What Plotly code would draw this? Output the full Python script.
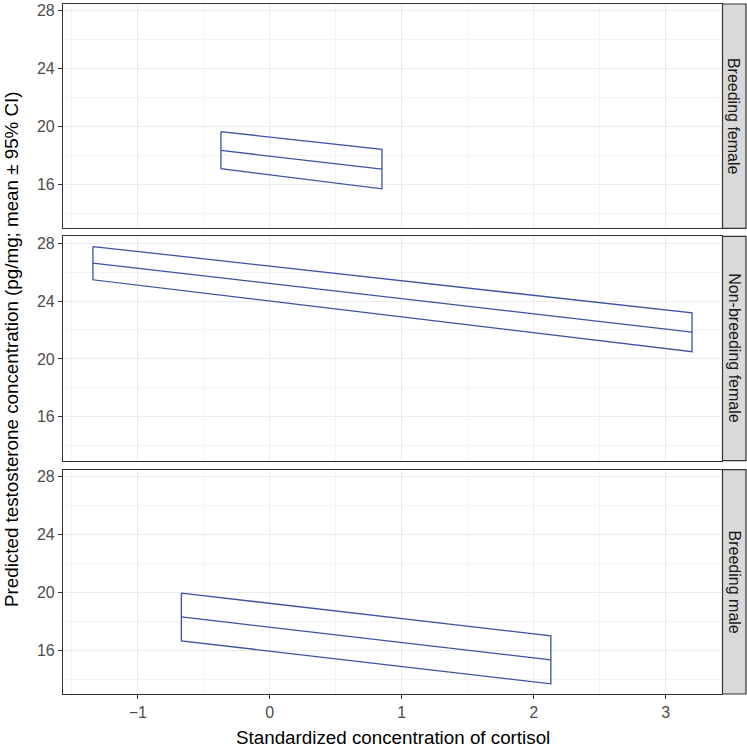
import plotly.graph_objects as go

# ---- data ----
groups = ["Breeding female", "Non-breeding female", "Breeding male"]
x_start = [-0.37, -1.34, -0.67]
x_end = [0.85, 3.20, 2.13]
mean_start = [18.35, 26.62, 18.29]
mean_end = [17.06, 21.85, 15.33]
upper_start = [19.65, 27.77, 19.94]
upper_end = [18.42, 23.18, 16.98]
lower_start = [17.09, 25.47, 16.64]
lower_end = [15.70, 20.50, 13.67]

x_title = "Standardized concentration of cortisol"
y_title = "Predicted testosterone concentration (pg/mg; mean ± 95% CI)"

# ---- layout geometry ----
W, H = 747, 751
ML, MR, MT, MB = 63, 25, 2, 57
PW = W - ML - MR
PH = H - MT - MB
panel_px = [(2, 227), (235, 460), (469, 694)]  # top/bottom pixel rows of each panel

def dom(top, bot):
    return [(H - MB - bot) / PH, (H - MB - top) / PH]

LINE = "#3A54A0"
BORDER = "#333333"

# ranges with ggplot-like 5% expansion
xmin, xmax = min(x_start), max(x_end)
xr = [xmin - 0.05 * (xmax - xmin), xmax + 0.05 * (xmax - xmin)]
ymin, ymax = min(lower_end + lower_start), max(upper_start + upper_end)
yr = [ymin - 0.05 * (ymax - ymin), ymax + 0.05 * (ymax - ymin)]

fig = go.Figure()
layout = dict(
    width=W, height=H,
    margin=dict(l=ML, r=MR, t=MT, b=MB),
    paper_bgcolor="white", plot_bgcolor="white",
    showlegend=False,
    font=dict(family="Liberation Sans, Arial, sans-serif"),
)
shapes = []
annotations = []

for i, g in enumerate(groups):
    n = i + 1
    xa = "x" if n == 1 else f"x{n}"
    ya = "y" if n == 1 else f"y{n}"
    # ribbon outline
    fig.add_trace(go.Scatter(
        x=[x_start[i], x_end[i], x_end[i], x_start[i], x_start[i]],
        y=[upper_start[i], upper_end[i], lower_end[i], lower_start[i], upper_start[i]],
        mode="lines", line=dict(color=LINE, width=1.3),
        xaxis=xa, yaxis=ya, hoverinfo="skip"))
    # mean line
    fig.add_trace(go.Scatter(
        x=[x_start[i], x_end[i]], y=[mean_start[i], mean_end[i]],
        mode="lines", line=dict(color=LINE, width=1.3),
        xaxis=xa, yaxis=ya, hoverinfo="skip"))

    top, bot = panel_px[i]
    d = dom(top, bot)
    axkey_x = "xaxis" if n == 1 else f"xaxis{n}"
    axkey_y = "yaxis" if n == 1 else f"yaxis{n}"
    layout[axkey_x] = dict(
        domain=[0, 1], anchor=ya, range=xr,
        tick0=0, dtick=1, showgrid=True, gridcolor="#EBEBEB", gridwidth=1.1,
        minor=dict(dtick=0.5, tick0=0, showgrid=True, gridcolor="#F4F4F4", gridwidth=0.6),
        showline=True, mirror=True, linecolor=BORDER, linewidth=1.2,
        ticks="outside" if n == 3 else "", ticklen=4, tickcolor=BORDER, tickwidth=1.1,
        showticklabels=(n == 3), tickfont=dict(size=16, color="#4D4D4D"),
        zeroline=False, fixedrange=True,
    )
    if n != 1:
        layout[axkey_x]["matches"] = "x"
    layout[axkey_y] = dict(
        domain=d, anchor=xa, range=yr,
        tick0=0, dtick=4, showgrid=True, gridcolor="#EBEBEB", gridwidth=1.1,
        minor=dict(dtick=2, tick0=0, showgrid=True, gridcolor="#F4F4F4", gridwidth=0.6),
        showline=True, mirror=True, linecolor=BORDER, linewidth=1.2,
        ticks="outside", ticklen=4, tickcolor=BORDER, tickwidth=1.1,
        tickfont=dict(size=16, color="#4D4D4D"),
        zeroline=False, fixedrange=True,
    )
    # strip
    sx0 = 1 + 0.5 / PW
    sx1 = 1 + (MR - 1) / PW
    shapes.append(dict(type="rect", xref="paper", yref="paper",
                       x0=sx0, x1=sx1, y0=d[0], y1=d[1],
                       fillcolor="#D9D9D9", line=dict(color=BORDER, width=1.2), layer="below"))
    annotations.append(dict(text=g, xref="paper", yref="paper",
                            x=(sx0 + sx1) / 2, y=(d[0] + d[1]) / 2,
                            showarrow=False, textangle=90,
                            xanchor="center", yanchor="middle",
                            font=dict(size=16, color="#1A1A1A")))

annotations.append(dict(text=x_title, xref="paper", yref="paper",
                        x=0.5, y=-(738 - (H - MB)) / PH, showarrow=False,
                        xanchor="center", yanchor="middle",
                        font=dict(size=18.8, color="black")))
annotations.append(dict(text=y_title, xref="paper", yref="paper",
                        x=-(ML - 11) / PW, y=(dom(2, 694)[0] + dom(2, 694)[1]) / 2,
                        showarrow=False, textangle=-90,
                        xanchor="center", yanchor="middle",
                        font=dict(size=18.8, color="black")))

layout["shapes"] = shapes
layout["annotations"] = annotations
fig.update_layout(**layout)
fig.write_html("out.html", config={"displayModeBar": False},
               post_script="document.body.style.margin='0px';document.body.style.overflow='hidden';")
